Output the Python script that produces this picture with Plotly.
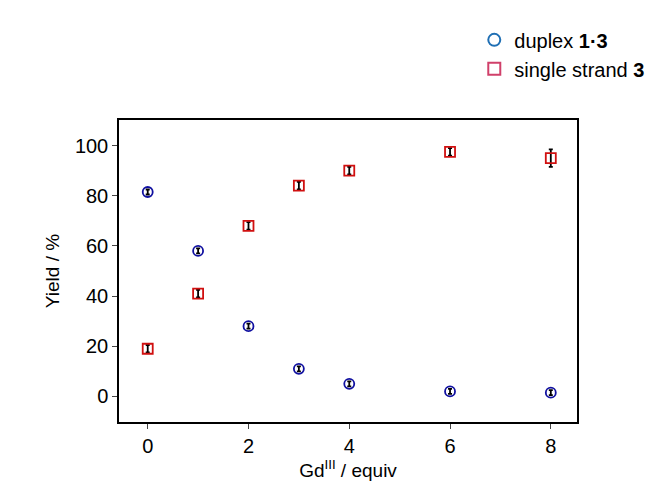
import plotly.graph_objects as go

x = [0, 1, 2, 3, 4, 6, 8]
duplex = [81.5, 58, 28, 11, 5, 2, 1.5]
duplex_err = [1, 1, 1, 1, 1, 1, 1]
single = [19, 41, 68, 84, 90, 97.5, 95]
single_err = [1.5, 1.5, 1.5, 1.5, 1.5, 1.5, 3.5]

fig = go.Figure()
fig.add_trace(go.Scatter(x=x, y=single, mode="markers", showlegend=False,
    marker=dict(symbol="square-open", size=10, color="#d01010", line=dict(width=1.8)),
    error_y=dict(type="data", array=single_err, color="black", thickness=1.8, width=2)))
fig.add_trace(go.Scatter(x=x, y=duplex, mode="markers", showlegend=False,
    marker=dict(symbol="circle-open", size=10, color="#1010a0", line=dict(width=1.8)),
    error_y=dict(type="data", array=duplex_err, color="black", thickness=1.8, width=2)))
fig.add_trace(go.Scatter(x=[None], y=[None], mode="markers", name="duplex <b>1·3</b>",
    marker=dict(symbol="circle-open", size=16, color="#1f6fb4", line=dict(width=3))))
fig.add_trace(go.Scatter(x=[None], y=[None], mode="markers", name="single strand <b>3</b>",
    marker=dict(symbol="square-open", size=16, color="#d0406a", line=dict(width=3))))

fig.update_layout(
    width=662, height=485, plot_bgcolor="white", paper_bgcolor="white",
    font=dict(family="Liberation Sans, Arial", size=20, color="black"),
    margin=dict(l=111, r=93, t=105, b=71),
    legend=dict(x=1.16, y=1.33, xanchor="right", yanchor="top", font=dict(size=20),
                itemsizing="constant", tracegroupgap=0),
)
fig.update_xaxes(range=[-0.57, 8.52], tickvals=[0, 2, 4, 6, 8], ticks="outside", ticklen=5,
    showline=True, linecolor="black", linewidth=1.5, mirror=True, showgrid=False, zeroline=False,
    title=dict(text="Gd<sup>III</sup> / equiv", standoff=8, font=dict(size=19)))
fig.update_yaxes(range=[-10.2, 110.2], tickvals=[0, 20, 40, 60, 80, 100], ticks="outside", ticklen=5,
    showline=True, linecolor="black", linewidth=1.5, mirror=True, showgrid=False, zeroline=False,
    title=dict(text="Yield / %", standoff=10, font=dict(size=19)))
fig.write_html("out.html")
